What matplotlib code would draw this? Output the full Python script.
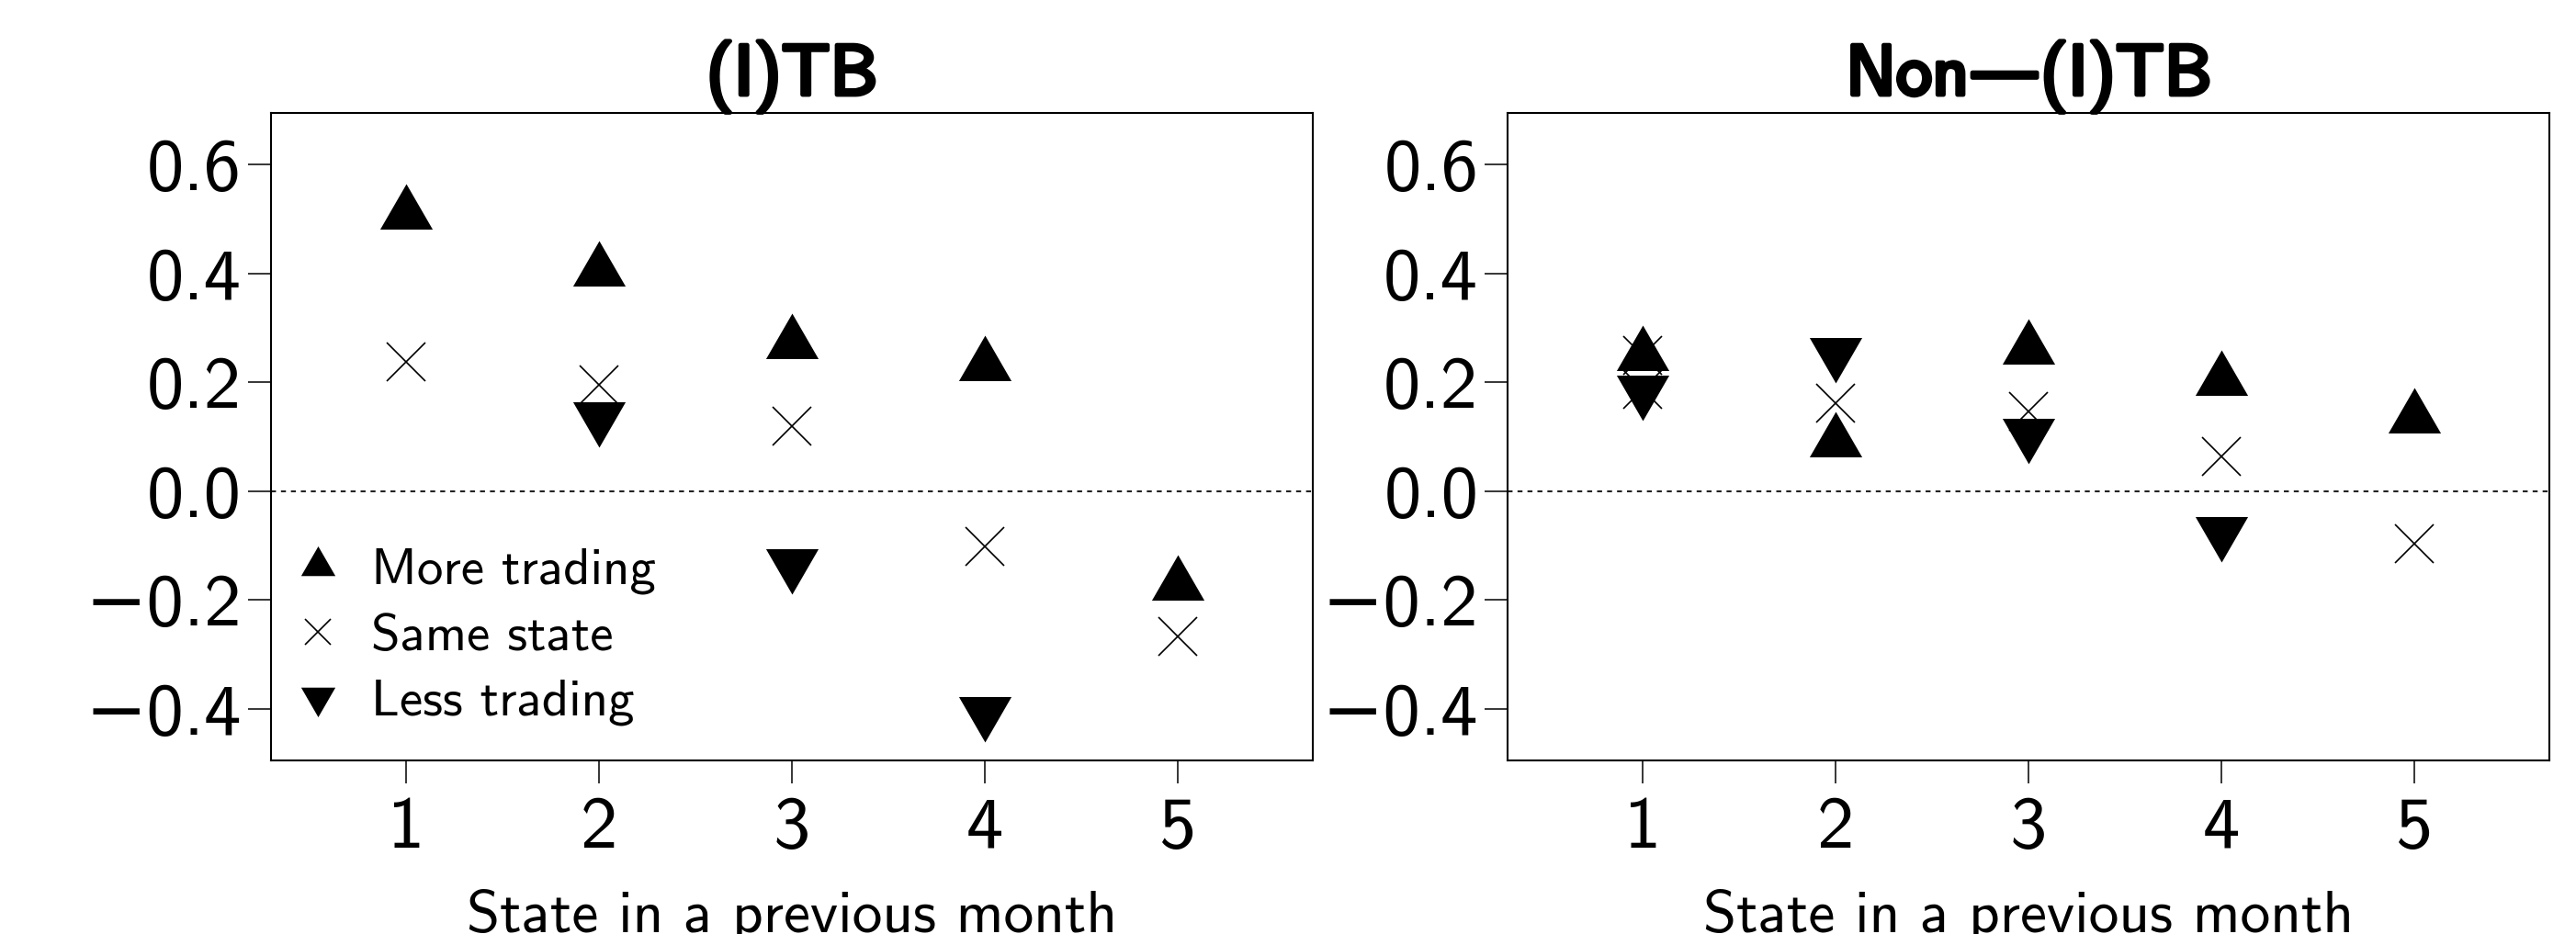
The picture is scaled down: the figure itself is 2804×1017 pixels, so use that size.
import numpy as np
import matplotlib
matplotlib.use("Agg")
import matplotlib.pyplot as plt
import matplotlib.patheffects as pe
from matplotlib.path import Path
from matplotlib.lines import Line2D

plt.rcParams['font.family'] = ['cmss10', 'DejaVu Sans']
plt.rcParams['axes.unicode_minus'] = False

# data
states = [1, 2, 3, 4, 5]
itb_more = [0.510, 0.404, 0.272, 0.231, -0.173]
itb_same = [0.238, 0.196, 0.119, -0.102, -0.268]
itb_less = [np.nan, 0.136, -0.134, -0.406, np.nan]

non_more = [0.250, 0.090, 0.261, 0.203, 0.134]
non_same_x = [1, 1, 2, 3, 4, 5]
non_same = [0.249, 0.187, 0.161, 0.147, 0.064, -0.097]
non_less = [0.185, 0.255, 0.105, -0.075, np.nan]

yticks = [-0.4, -0.2, 0.0, 0.2, 0.4, 0.6]
ytick_labels = ['\u22120.4', '\u22120.2', '0.0', '0.2', '0.4', '0.6']
titles = ['(I)TB', 'Non\u2014(I)TB']
labels = ['More trading', 'Same state', 'Less trading']

# R style triangles, centred on the centroid
tri_up = Path([(0, 1.555), (1.347, -0.7776), (-1.347, -0.7776), (0, 1.555)],
              [Path.MOVETO, Path.LINETO, Path.LINETO, Path.CLOSEPOLY])
tri_dn = Path([(0, -1.555), (1.347, 0.7776), (-1.347, 0.7776), (0, -1.555)],
              [Path.MOVETO, Path.LINETO, Path.LINETO, Path.CLOSEPOLY])


def draw_panel(ax, more, same_x, same, less, title, legend=False):
    ax.axhline(0, color='#222222', lw=1.5, ls=(0, (2.6, 2.6)), zorder=1)
    ax.plot(states, more, ls='none', marker=tri_up, ms=47.5, color='black', mew=0, zorder=3)
    ax.plot(same_x, same, ls='none', marker='x', ms=30, color='black', mew=1.2, zorder=2)
    ax.plot(states, less, ls='none', marker=tri_dn, ms=47.5, color='black', mew=0, zorder=3)

    ax.set_xlim(0.3, 5.7)
    ax.set_ylim(-0.495, 0.695)
    ax.set_xticks(states)
    ax.set_xticklabels([str(s) for s in states])
    ax.set_yticks(yticks)
    ax.set_yticklabels(ytick_labels)
    ax.tick_params(axis='both', direction='out', length=18, width=1.1, labelsize=58)
    ax.tick_params(axis='x', pad=10)
    ax.tick_params(axis='y', pad=5)
    for s in ax.spines.values():
        s.set_linewidth(1.5)
    ax.set_xlabel('State in a previous month', fontsize=47, labelpad=21)
    t = ax.set_title(title, fontsize=56, pad=14)
    t.set_path_effects([pe.withStroke(linewidth=3.4, foreground='black')])

    if legend:
        handles = [
            Line2D([], [], ls='none', marker=tri_up, ms=31, color='black', mew=0),
            Line2D([], [], ls='none', marker='x', ms=20, color='black', mew=1.2),
            Line2D([], [], ls='none', marker=tri_dn, ms=31, color='black', mew=0),
        ]
        ax.legend(handles, labels, loc='lower left', bbox_to_anchor=(0.02, 0.053),
                  frameon=False, fontsize=41, handlelength=1.0, handletextpad=0.52,
                  labelspacing=0.36, borderpad=0, borderaxespad=0)


fig = plt.figure(figsize=(28.04, 10.17), dpi=100)
ax1 = fig.add_axes([0.1052, 0.186, 0.4044, 0.693])
ax2 = fig.add_axes([0.5853, 0.186, 0.4044, 0.693])

draw_panel(ax1, itb_more, states, itb_same, itb_less, titles[0], legend=True)
draw_panel(ax2, non_more, non_same_x, non_same, non_less, titles[1])

fig.savefig('out.png', dpi=100)
